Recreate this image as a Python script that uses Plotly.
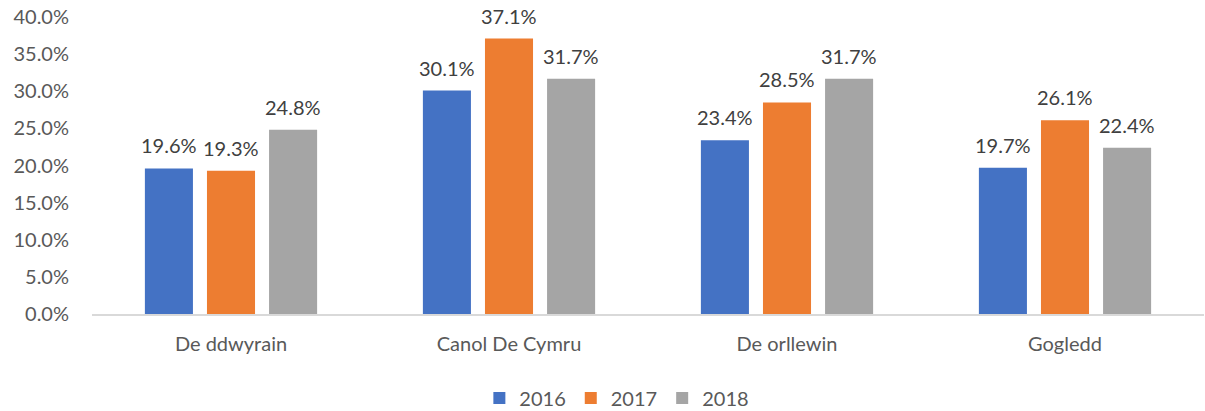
import plotly.graph_objects as go

categories = ["De ddwyrain", "Canol De Cymru", "De orllewin", "Gogledd"]
years = ["2016", "2017", "2018"]
v2016 = [19.6, 30.1, 23.4, 19.7]
v2017 = [19.3, 37.1, 28.5, 26.1]
v2018 = [24.8, 31.7, 31.7, 22.4]
colors = ["#4472C4", "#ED7D31", "#A5A5A5"]
y_ticks = [0, 5, 10, 15, 20, 25, 30, 35, 40]

FONT = "Lato, Open Sans, sans-serif"
BARGAP = 0.33
W, H = 1205, 411
ML, MR = 92, 1
slot_px = (W - ML - MR) / len(categories) * (1 - BARGAP) / len(years)

fig = go.Figure()
series = [v2016, v2017, v2018]
for i, (name, vals, col) in enumerate(zip(years, series, colors)):
    fig.add_trace(go.Bar(
        x=categories, y=vals, name=name, marker_color=col,
        marker_line_width=0,
    ))
    for cat, v in zip(categories, vals):
        fig.add_annotation(
            x=cat, y=v, xref="x", yref="y", text=f"{v:.1f}%",
            showarrow=False, yanchor="bottom", xanchor="center",
            xshift=(i - (len(years) - 1) / 2) * slot_px, yshift=9,
            font=dict(size=20, color="#404040", family=FONT),
        )

fig.update_layout(
    width=W, height=H,
    margin=dict(l=ML, r=MR, t=17, b=97),
    paper_bgcolor="white", plot_bgcolor="white",
    barmode="group", bargap=BARGAP, bargroupgap=0.226,
    font=dict(family=FONT, size=20, color="#595959"),
    showlegend=True,
    legend=dict(orientation="h", x=0.472, xanchor="center",
                yref="container", y=13 / H, yanchor="middle",
                font=dict(size=20, color="#595959"), traceorder="normal",
                itemwidth=30, borderwidth=0),
    xaxis=dict(showline=True, linecolor="#D9D9D9", linewidth=1.5, ticks="",
               automargin=False, ticklabelstandoff=11,
               tickfont=dict(size=20, color="#595959")),
    yaxis=dict(range=[0, 40], tickvals=y_ticks, ticktext=[f"{t:.1f}%" for t in y_ticks],
               showgrid=False, zeroline=False, showline=False, automargin=False,
               ticklabelstandoff=22,
               tickfont=dict(size=20, color="#595959")),
)
fig.write_html("out.html", config={"displayModeBar": False},
               post_script="document.body.style.margin='0px';")
